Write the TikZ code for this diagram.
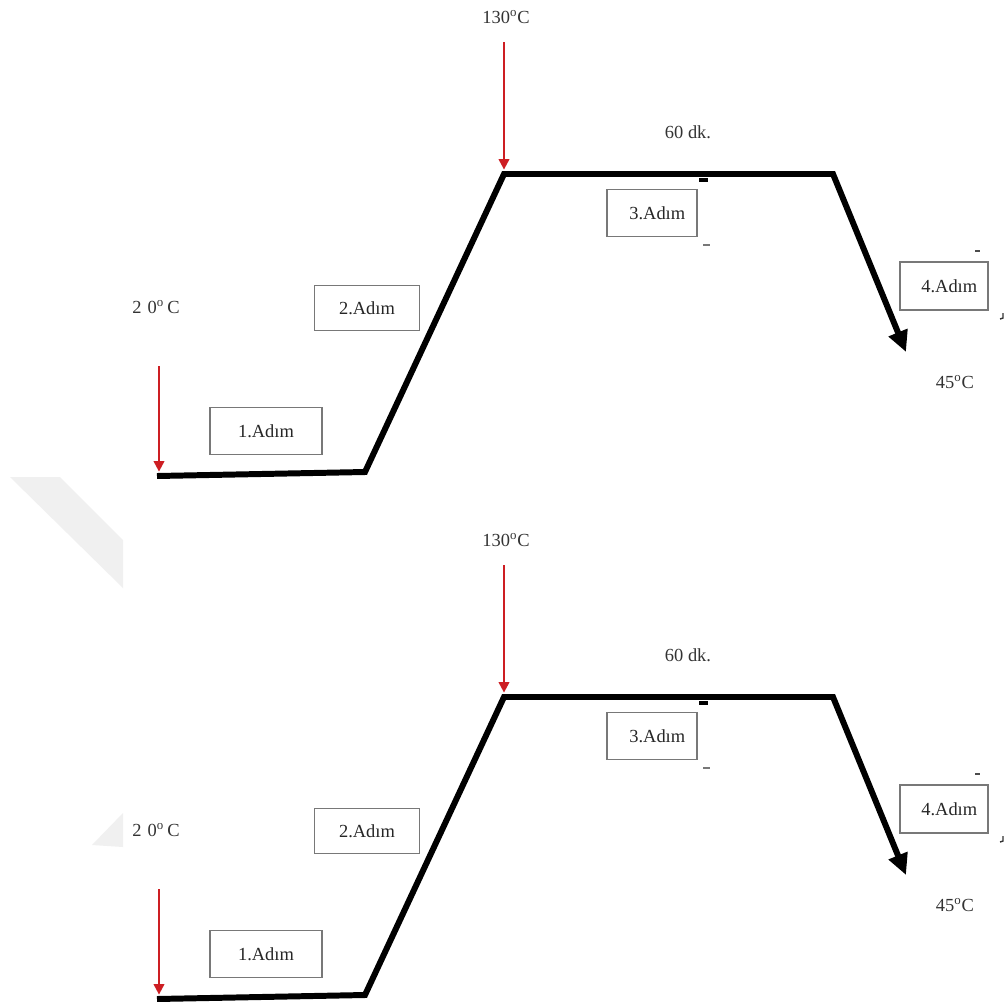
\documentclass[tikz,border=0pt]{standalone}
\usepackage{fontspec}
\setmainfont{Liberation Serif}
\usetikzlibrary{arrows.meta}
\definecolor{heatred}{RGB}{205,30,35}
\definecolor{boxgray}{RGB}{120,120,120}
\newcommand\heatprofile[2]{%
\begin{scope}[shift={(0,#2)}]
  % profile corners
  \coordinate (#1p0) at (157,476);
  \coordinate (#1p1) at (365,472);
  \coordinate (#1p2) at (504,174);
  \coordinate (#1p3) at (833,174);
  \coordinate (#1p4) at (906,352);
  \coordinate (#1a1) at (159,366);
  \coordinate (#1a1e) at (159,476);
  \coordinate (#1a2) at (504,42);
  % labels
  \node[lbl] (#1tlow) at (156,307) {2\,\,0\textsuperscript{o}\,C};
  \node[lbl] (#1thigh) at (506,17) {130\textsuperscript{o}C};
  \node[lbl] (#1ttime) at (688,132) {60 dk.};
  \node[lbl] (#1tend) at (955,382) {45\textsuperscript{o}C};
  % step boxes
  \node[stepbox, minimum width=2.24cm, minimum height=0.94cm] (#1s1) at (266,431) {1.Adım};
  \node[stepbox, minimum width=2.10cm, minimum height=0.90cm] (#1s2) at (367,308) {2.Adım};
  \node[stepbox, minimum width=1.80cm, minimum height=0.94cm] (#1s3) at (652,213) {\hspace*{6pt}3.Adım};
  \node[stepbox, minimum width=1.76cm, minimum height=0.96cm] (#1s4) at (944,286) {\hspace*{6pt}4.Adım};
  % profile line
  \draw[profile, -{Triangle[length=12pt,width=11pt]}] (#1p0) -- (#1p1) -- (#1p2) -- (#1p3) -- (#1p4);
  % red arrows
  \draw[heat, shorten >=2.5pt] (#1a1) -- (#1a1e);
  \draw[heat, shorten >=2.5pt] (#1a2) -- (#1p2);
  % small stray marks
  \fill[black] (699,178) rectangle (708,182);
  \draw[boxgray, line width=0.6pt] (703,245) -- (710,245);
  \draw[black!70, line width=0.6pt] (975,251) -- (980,251);
  \draw[black!80, line width=0.8pt] (1003,313) -- (1003,318) -- (1000,319);
\end{scope}}
\begin{document}
\begin{tikzpicture}[x=0.02cm, y=-0.02cm,
  profile/.style={line width=3.4pt, line join=miter, draw=black},
  heat/.style={draw=heatred, line width=1.2pt, -{Triangle[length=6pt,width=6pt]}},
  stepbox/.style={draw=boxgray, line width=0.8pt, rectangle, inner sep=0pt, fill=white,
    font=\fontsize{10.5}{12}\selectfont, text=black!85},
  lbl/.style={font=\fontsize{10.5}{12}\selectfont, text=black!80, inner sep=0pt},
  wm/.style={fill=gray!12, draw=none}]
  \useasboundingbox (0,0) rectangle (1008,1008);
  \fill[white] (0,0) rectangle (1008,1008);
  % faint watermark fragments
  \fill[wm] (10,477) -- (60,477) -- (123,540) -- (123,588) -- cycle;
  \fill[wm] (92,845) -- (123,813) -- (123,847) -- cycle;
  \heatprofile{u}{0}
  \heatprofile{l}{523}
\end{tikzpicture}
\end{document}
